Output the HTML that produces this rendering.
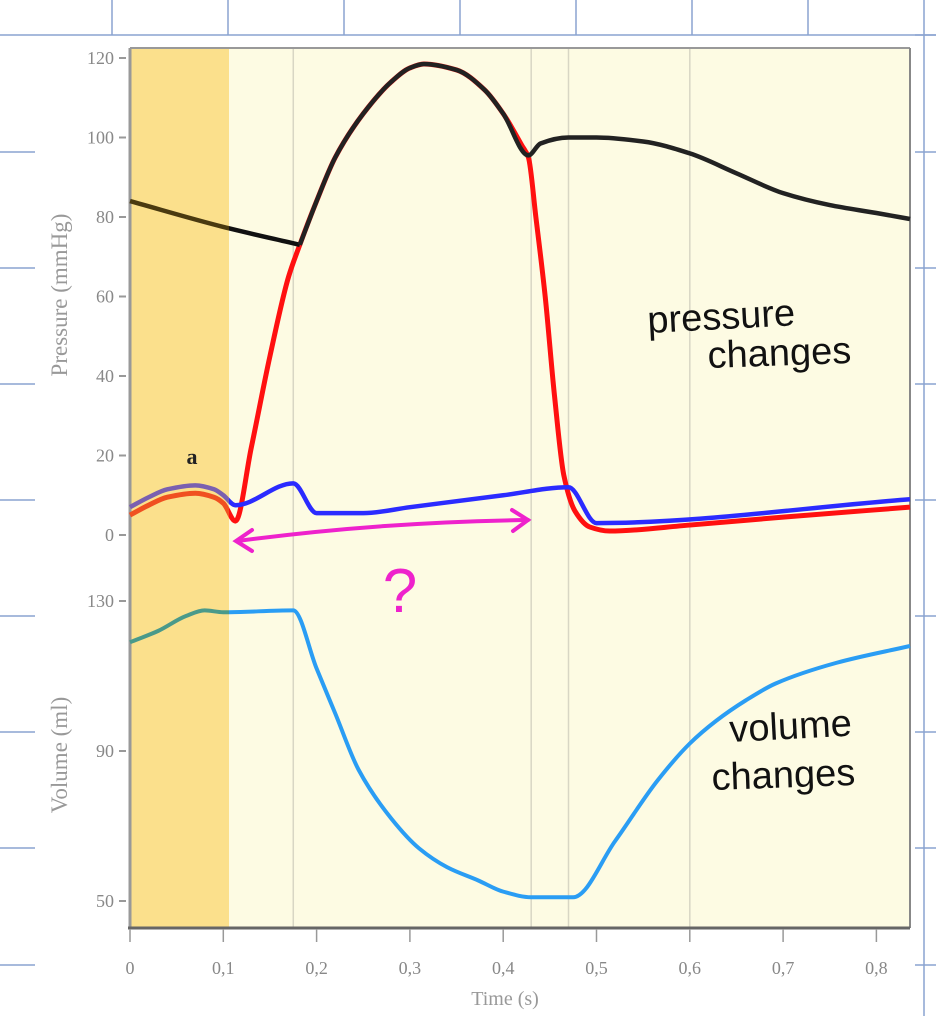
<!DOCTYPE html>
<html><head><meta charset="utf-8"><style>
body{margin:0;background:#fff;}
svg{display:block;font-family:"Liberation Serif",serif;}
</style></head><body>
<svg id="chart" width="936" height="1016" viewBox="0 0 936 1016">
<g id="notebook" stroke="#8aa3d0" stroke-width="1.5"></g>
<rect x="130" y="48" width="780" height="880" fill="#fdfbe3"/>
<rect x="130" y="48" width="99" height="880" fill="#fbe08c"/>
<g id="vgrid" stroke="#d8d6c4" stroke-width="1.5"></g>
<line x1="130" y1="48" x2="910" y2="48" stroke="#999" stroke-width="2"/>
<line x1="910" y1="48" x2="910" y2="928" stroke="#888" stroke-width="2"/>
<line x1="130" y1="48" x2="130" y2="928" stroke="#999" stroke-width="3"/>
<line x1="128" y1="928" x2="910" y2="928" stroke="#666" stroke-width="3"/>
<g id="axes" fill="#888" font-size="18"></g>
<defs>
<clipPath id="cl"><rect x="120" y="40" width="109" height="900"/></clipPath>
<clipPath id="cr"><rect x="229" y="40" width="690" height="900"/></clipPath>
</defs>
<g id="series"></g>
<text x="192" y="464" font-size="22" font-weight="bold" text-anchor="middle" fill="#222">a</text>
<text transform="translate(67,295) rotate(-90)" text-anchor="middle" font-size="23" fill="#999">Pressure (mmHg)</text>
<text transform="translate(67,755) rotate(-90)" text-anchor="middle" font-size="23" fill="#999">Volume (ml)</text>
<text x="505" y="1005" text-anchor="middle" font-size="20" fill="#999">Time (s)</text>
<g font-family="'Liberation Sans',sans-serif" fill="#111" font-size="38">
<text x="648" y="333" transform="rotate(-3 648 333)">pressure</text>
<text x="708" y="368" transform="rotate(-2 708 368)">changes</text>
<text x="730" y="742" transform="rotate(-3 730 742)">volume</text>
<text x="712" y="790" transform="rotate(-2 712 790)">changes</text>
</g>
<g stroke="#ee22cc" stroke-width="4" fill="none" stroke-linecap="round">
<path d="M238,541 Q380,522 528,520"/>
<path d="M252,530 L236,541 L252,551"/>
<path d="M512,510 L528,520 L513,531"/>
</g>
<text x="400" y="612" font-family="'Liberation Sans',sans-serif" font-size="62" fill="#ee22cc" text-anchor="middle">?</text>
</svg>
<script>
const xTicks=[0,0.1,0.2,0.3,0.4,0.5,0.6,0.7,0.8];
const xTickLabels=["0","0,1","0,2","0,3","0,4","0,5","0,6","0,7","0,8"];
const pTicks=[0,20,40,60,80,100,120];
const vTicks=[50,90,130];
const phaseLines=[0.175,0.43,0.47,0.6];
const aorticT=[0,0.1,0.182,0.2,0.22,0.25,0.28,0.3,0.315,0.35,0.38,0.4,0.427,0.44,0.47,0.5,0.55,0.6,0.65,0.7,0.75,0.8,0.836];
const aorticP=[84,77.5,73,84,95,106,114,117.5,118.5,117,112,106,95.5,98.5,100,100,99,96,91,86,83,81,79.5];
const ventT=[0,0.02,0.04,0.07,0.09,0.1,0.113,0.13,0.15,0.17,0.182,0.2,0.22,0.25,0.28,0.3,0.315,0.35,0.38,0.4,0.42,0.427,0.435,0.445,0.455,0.465,0.477,0.493,0.514,0.6,0.7,0.836];
const ventP=[5,7.5,9.5,10.5,9.5,8,3.5,22,45,65,73,84,95,106,114,117.5,118.5,117,112,106,98,95,80,60,35,15,6,2,1,2.5,4.5,7];
const atrT=[0,0.02,0.04,0.07,0.09,0.1,0.113,0.175,0.2,0.25,0.3,0.4,0.47,0.5,0.836];
const atrP=[7,9.5,11.5,12.5,11.5,10,7.5,13,5.5,5.5,7,10,12,3,9];
const volT=[0,0.03,0.06,0.08,0.1,0.175,0.2,0.22,0.245,0.28,0.31,0.34,0.373,0.4,0.43,0.475,0.52,0.565,0.6,0.628,0.66,0.692,0.757,0.836];
const volV=[119,122,126,127.5,127,127.5,112,100,85,72,64,59,55.5,52.5,51,51,66,82,92,98,103.5,108,113.5,118];

const NS="http://www.w3.org/2000/svg";
const X=t=>130+t*933;
const YP=p=>535-p*3.975;
const YV=v=>901-(v-50)*3.75;
function mk(tag,attrs,parent){const e=document.createElementNS(NS,tag);for(const k in attrs)e.setAttribute(k,attrs[k]);parent.appendChild(e);return e;}

const nb=document.getElementById('notebook');
[112,228,344,460,576,692,808].forEach(x=>{const l=mk('line',{x1:x,y1:0,x2:x,y2:35},nb);

});
mk('line',{x1:924,y1:0,x2:924,y2:1016},nb);
[35,152,268,384,500,616,732,848,965].forEach(y=>{
const a=mk('line',{x1:0,y1:y,x2:35,y2:y},nb);


const b=mk('line',{x1:915,y1:y,x2:936,y2:y},nb);

});
mk('line',{x1:35,y1:35,x2:936,y2:35},nb);

const vg=document.getElementById('vgrid');
phaseLines.forEach(t=>{const l=mk('line',{x1:X(t),y1:49,x2:X(t),y2:927},vg);

});

const ax=document.getElementById('axes');
xTicks.forEach((t,i)=>{
const tk=mk('line',{x1:X(t),y1:929,x2:X(t),y2:942,stroke:'#999','stroke-width':1.5},ax);


const tx=mk('text',{x:X(t),y:974,'text-anchor':'middle'},ax);tx.textContent=xTickLabels[i];

});
pTicks.forEach(p=>{
const tk=mk('line',{x1:119,y1:YP(p),x2:126,y2:YP(p),stroke:'#999','stroke-width':2},ax);


const tx=mk('text',{x:114,y:YP(p)+6,'text-anchor':'end'},ax);tx.textContent=p;

});
vTicks.forEach(v=>{
const tk=mk('line',{x1:119,y1:YV(v),x2:126,y2:YV(v),stroke:'#999','stroke-width':2},ax);


const tx=mk('text',{x:114,y:YV(v)+6,'text-anchor':'end'},ax);tx.textContent=v;

});

function path(ts,vs,Y){
// monotone cubic (Fritsch-Carlson)
const xs=ts.map(X), ys=vs.map(Y), n=xs.length;
const dx=[],m=[];
for(let i=0;i<n-1;i++){dx[i]=xs[i+1]-xs[i];m[i]=(ys[i+1]-ys[i])/dx[i];}
const tg=[m[0]];
for(let i=1;i<n-1;i++){ if(m[i-1]*m[i]<=0) tg.push(0); else { const w1=2*dx[i]+dx[i-1], w2=dx[i]+2*dx[i-1]; tg.push((w1+w2)/(w1/m[i-1]+w2/m[i])); } }
tg.push(m[n-2]);
let d='M'+xs[0]+','+ys[0];
for(let i=0;i<n-1;i++){const h=dx[i]/3;
d+=` C${xs[i]+h},${ys[i]+tg[i]*h} ${xs[i+1]-h},${ys[i+1]-tg[i+1]*h} ${xs[i+1]},${ys[i+1]}`;}
return d;}
const sg=document.getElementById('series');
function series(name,ts,vs,Y,cR,cL,w){
const d=path(ts,vs,Y);
const a=mk('path',{d:d,fill:'none',stroke:cL,'stroke-width':w,'clip-path':'url(#cl)','stroke-linejoin':'round'},sg);


const b=mk('path',{d:d,fill:'none',stroke:cR,'stroke-width':w,'clip-path':'url(#cr)','stroke-linejoin':'round'},sg);

}
series('ventricular-pressure-line',ventT,ventP,YP,'#ff1010','#f05020',5);
series('aortic-pressure-line',aorticT.slice(0,3),aorticP.slice(0,3),YP,'#111','#4a3a10',4.5);
series('aortic-pressure-ejection',aorticT.slice(2),aorticP.slice(2),YP,'#222','#222',4.5);
series('atrial-pressure-line',atrT,atrP,YP,'#2b2bff','#7a60b0',4.5);
series('ventricular-volume-line',volT,volV,YV,'#2a9df4','#4a9a8a',4);
</script>
</body></html>
